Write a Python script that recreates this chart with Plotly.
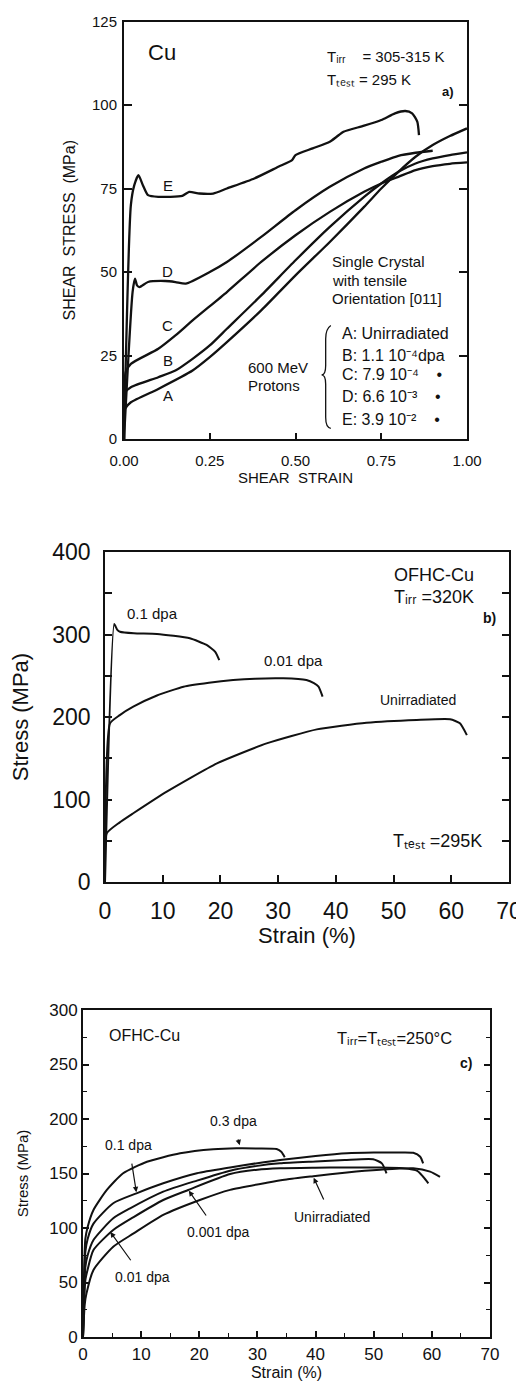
import plotly.graph_objects as go

# ---------------- Panel a: Cu single crystal, shear stress-strain ----------------
a_A_x = [0, 0.003, 0.02, 0.1, 0.2, 0.25, 0.3, 0.4, 0.5, 0.6, 0.7, 0.75, 0.8, 0.85, 0.9, 0.95, 1.0]
a_A_y = [0, 9, 11, 15, 20.5, 24.5, 29, 38.5, 49, 59, 69.5, 75, 80, 84.5, 88, 90.7, 93]
a_B_x = [0, 0.004, 0.02, 0.1, 0.15, 0.2, 0.25, 0.3, 0.4, 0.5, 0.6, 0.7, 0.75, 0.8, 0.85, 0.9, 0.95, 1.0]
a_B_y = [0, 14, 15.5, 18.5, 20.5, 24, 28, 33, 43, 53.5, 63.5, 72.5, 76.5, 80, 82.5, 84, 85, 85.8]
a_C_x = [0, 0.005, 0.02, 0.1, 0.15, 0.2, 0.3, 0.4, 0.5, 0.6, 0.7, 0.75, 0.8, 0.85, 0.9, 0.95, 1.0]
a_C_y = [0, 20, 22.5, 27, 31, 35.5, 44, 53, 61, 68, 74, 76.5, 78.5, 80.5, 81.7, 82.4, 82.8]
a_D_x = [0, 0.025, 0.032, 0.038, 0.045, 0.07, 0.12, 0.15, 0.18, 0.25, 0.3, 0.4, 0.5, 0.6, 0.7, 0.75, 0.8, 0.85, 0.9]
a_D_y = [0, 44, 48, 46, 45.5, 47, 47.3, 47, 46.5, 50, 53, 60.5, 68.5, 75.5, 81, 83, 84.8, 85.7, 86.3]
a_E_x = [0, 0.02, 0.03, 0.042, 0.055, 0.07, 0.1, 0.17, 0.19, 0.22, 0.26, 0.3, 0.38, 0.45, 0.49, 0.5,
         0.55, 0.6, 0.62, 0.64, 0.7, 0.75, 0.79, 0.82, 0.84, 0.855, 0.86]
a_E_y = [0, 70, 76, 79, 76, 73, 72.5, 72.8, 74, 73.5, 73.5, 75, 78, 81.5, 83.5, 85,
         87, 89, 90.5, 92, 93.8, 95.5, 97.5, 98.2, 97.5, 95, 91]
a_names = ["A", "B", "C", "D", "E"]
a_label_y = [12.9, 23.4, 34, 50.3, 76]
a_xticks = [0, 0.25, 0.5, 0.75, 1.0]
a_yticks = [0, 25, 50, 75, 100, 125]
a_dose_lines = ["A: Unirradiated", "B: 1.1 10⁻⁴dpa", "C: 7.9 10⁻⁴    •",
                "D: 6.6 10⁻³    •", "E: 3.9 10⁻²    •"]
a_dose_y = [31.7, 25.1, 19.2, 12.6, 5.7]
a_crystal_lines = ["Single Crystal", "with tensile", "Orientation [011]"]
a_crystal_y = [53, 47.6, 42.2]

# ---------------- Panel b: OFHC-Cu, T_irr = 320 K ----------------
b_01_x = [0, 1.6, 2.1, 2.6, 5, 9, 14.7, 17.6, 19.1, 19.8]
b_01_y = [0, 312.7, 306, 303.4, 301.5, 300.6, 295.4, 287.3, 279, 269]
b_001_x = [0, 0.87, 2.5, 4.9, 9, 13.6, 18, 22.2, 26, 30.9, 34.9, 36.2, 37, 37.7]
b_001_y = [0, 192.3, 202, 212.5, 226, 236.7, 241.5, 244.8, 246.5, 246.9, 244.8, 241, 236.7, 224.6]
b_un_x = [0, 0.3, 2.5, 4.9, 10.7, 19.4, 28, 36.7, 45.3, 54, 59.8, 61.5, 62.7]
b_un_y = [0, 59, 72, 83.3, 109.5, 143.8, 168, 185, 193, 196.4, 197.2, 192.3, 178]
b_labels = ["0.1 dpa", "0.01 dpa", "Unirradiated"]

# ---------------- Panel c: OFHC-Cu, T_irr = T_test = 250 C ----------------
c_03_x = [0, 0.4, 0.8, 1.8, 4.1, 6.9, 11, 16.7, 22.4, 26.4, 30, 33.3, 34.1, 34.7]
c_03_y = [0, 90, 101, 116.5, 134.9, 150.2, 160.8, 168.5, 172.2, 173.1, 173, 172.5, 170, 165]
c_01_x = [0, 0.4, 0.8, 1.8, 5.2, 9.2, 13.8, 19.6, 25.3, 30, 33.9, 40, 45.4, 50, 54, 56.8, 58, 58.5]
c_01_y = [0, 78, 90, 104, 122.7, 131.8, 141, 150.2, 155.5, 159.5, 162.4, 166, 168.5, 169.2, 169.3, 169, 165.4, 159.3]
c_001_x = [0, 0.4, 0.8, 1.8, 5.2, 8.1, 13.8, 19.6, 25.3, 30, 33.9, 40, 45, 49.9, 51.4, 52.2]
c_001_y = [0, 64, 75, 89, 108.9, 118, 133.3, 143.5, 152.6, 157, 159.3, 161, 162.3, 163, 159.3, 150.2]
c_0001_x = [0, 0.4, 0.8, 1.8, 5.2, 8.7, 13.8, 18.1, 25.3, 30, 33.9, 40, 45, 51, 55, 57.5, 58.5, 59.4]
c_0001_y = [0, 52, 62, 79.8, 98.2, 110, 125.7, 134.9, 149.5, 153.5, 154.8, 155.3, 155.5, 155.5, 154.8, 152.5, 147, 141]
c_un_x = [0, 0.3, 0.6, 1.8, 5.2, 8.7, 13.8, 20.1, 25.3, 31.6, 35, 39.6, 45.4, 51.1, 56.8, 59.7, 61.4]
c_un_y = [0, 30, 40, 61.5, 82.8, 95, 112, 125.7, 135, 141.5, 144.5, 147.5, 151, 153.5, 154.8, 151.7, 147]
c_labels = ["0.3 dpa", "0.1 dpa", "0.01 dpa", "0.001 dpa", "Unirradiated"]
# (label, label_x, label_y, arrow tip x, arrow tip y)
c_arrows = [("0.3 dpa", 25.8, 198, 27, 175),
            ("0.1 dpa", 7.9, 176, 9.2, 132),
            ("0.01 dpa", 10.3, 55, 4.6, 97),
            ("0.001 dpa", 23.2, 96, 18.1, 135),
            ("Unirradiated", 42.8, 110, 39.6, 147)]

# The page body has an 8 px margin, so the figure is drawn 8 px in from the top-left corner.
OFF = 8
W, H = 524 - OFF, 1381 - OFF
FA = "Liberation Sans, Arial, sans-serif"
FB = "Liberation Sans, Arial, sans-serif"
BLACK = "#111111"


def dom_x(p0, p1):
    return [(p0 - OFF) / W, (p1 - OFF) / W]


def dom_y(top, bottom):
    return [1 - (bottom - OFF) / H, 1 - (top - OFF) / H]


fig = go.Figure()

for nm, xs, ys in zip(a_names, [a_A_x, a_B_x, a_C_x, a_D_x, a_E_x], [a_A_y, a_B_y, a_C_y, a_D_y, a_E_y]):
    fig.add_trace(go.Scatter(x=xs, y=ys, mode="lines", line=dict(color=BLACK, width=2.3, shape="spline", smoothing=0.6),
                             name=nm, xaxis="x", yaxis="y", showlegend=False))

for nm, xs, ys in zip(b_labels, [b_01_x, b_001_x, b_un_x], [b_01_y, b_001_y, b_un_y]):
    fig.add_trace(go.Scatter(x=xs, y=ys, mode="lines", line=dict(color=BLACK, width=2, shape="spline", smoothing=0.5),
                             name=nm, xaxis="x2", yaxis="y2", showlegend=False))

for nm, xs, ys in zip(c_labels, [c_03_x, c_01_x, c_001_x, c_0001_x, c_un_x],
                      [c_03_y, c_01_y, c_001_y, c_0001_y, c_un_y]):
    fig.add_trace(go.Scatter(x=xs, y=ys, mode="lines", line=dict(color=BLACK, width=2, shape="spline", smoothing=0.6),
                             name=nm, xaxis="x3", yaxis="y3", showlegend=False))

ax_x = dict(showgrid=False, zeroline=False, showline=True, linecolor=BLACK, ticks="inside",
            tickcolor=BLACK, mirror=True, automargin=False)
ax_y = dict(showgrid=False, zeroline=False, showline=True, linecolor=BLACK, ticks="inside",
            tickcolor=BLACK, mirror="ticks", automargin=False)

fig.update_layout(
    template="none",
    width=W, height=H, margin=dict(l=0, r=0, t=0, b=0, pad=0),
    paper_bgcolor="white", plot_bgcolor="white", showlegend=False,
    # panel a
    xaxis=dict(**ax_x, domain=dom_x(124, 467), range=[0, 1], tickvals=a_xticks, tickformat=".2f",
               linewidth=2, ticklen=6, tickwidth=1.5, anchor="y", ticklabelstandoff=7,
               tickfont=dict(family=FA, size=15, color=BLACK),
               title=dict(text="SHEAR  STRAIN", font=dict(family=FA, size=15, color=BLACK), standoff=0)),
    yaxis=dict(**ax_y, domain=dom_y(21.5, 439), range=[0, 125], tickvals=a_yticks,
               linewidth=2, ticklen=8, tickwidth=1.5, anchor="x", ticklabelstandoff=2,
               tickfont=dict(family=FA, size=15, color=BLACK),
               title=dict(text="SHEAR  STRESS  (MPa)", font=dict(family=FA, size=16, color=BLACK), standoff=12)),
    # panel b
    xaxis2=dict(**ax_x, domain=dom_x(105, 509), range=[0, 70], dtick=10,
                linewidth=1.8, ticklen=7, tickwidth=1.5, anchor="y2", ticklabelstandoff=7,
                tickfont=dict(family=FB, size=23, color=BLACK),
                title=dict(text="Strain (%)", font=dict(family=FB, size=22, color=BLACK), standoff=0)),
    yaxis2=dict(**ax_y, domain=dom_y(552, 882), range=[0, 400], dtick=100,
                linewidth=1.8, ticklen=7, tickwidth=1.5, anchor="x2", ticklabelstandoff=8,
                minor=dict(dtick=50, ticks="inside", ticklen=7, tickcolor=BLACK, tickwidth=1.5),
                tickfont=dict(family=FB, size=23, color=BLACK),
                title=dict(text="Stress (MPa)", font=dict(family=FB, size=22, color=BLACK), standoff=19)),
    # panel c
    xaxis3=dict(**ax_x, domain=dom_x(83, 490), range=[0, 70], dtick=10,
                linewidth=2, ticklen=6, tickwidth=1.5, anchor="y3", ticklabelstandoff=1,
                minor=dict(dtick=5, ticks="inside", ticklen=4, tickcolor=BLACK, tickwidth=1.2),
                tickfont=dict(family=FB, size=17, color=BLACK),
                title=dict(text="Strain (%)", font=dict(family=FB, size=16, color=BLACK), standoff=0)),
    yaxis3=dict(**ax_y, domain=dom_y(1010, 1337), range=[0, 300], dtick=50,
                linewidth=2, ticklen=6, tickwidth=1.5, anchor="x3", ticklabelstandoff=0,
                minor=dict(dtick=25, ticks="inside", ticklen=4, tickcolor=BLACK, tickwidth=1.2),
                tickfont=dict(family=FB, size=17, color=BLACK),
                title=dict(text="Stress (MPa)", font=dict(family=FB, size=15, color=BLACK), standoff=17)),
)

ann = []


def txt(text, x, y, xref, yref, size, family=FA, xanchor="center", yanchor="middle", align="center", bold=False):
    ann.append(dict(text=text, x=x, y=y, xref=xref, yref=yref, showarrow=False,
                    font=dict(family=family, size=size, color=BLACK, weight="bold" if bold else "normal"),
                    xanchor=xanchor, yanchor=yanchor, align=align))


SUB_IRR = "ᵢᵣᵣ"
SUB_TEST = "ₜₑₛₜ"

# panel a texts
for nm, ly in zip(a_names, a_label_y):
    txt(nm, 0.128, ly, "x", "y", 15)
txt("Cu", 0.11, 115.6, "x", "y", 22)
txt("T" + SUB_IRR + "    = 305-315 K", 0.586, 114.4, "x", "y", 15, xanchor="left")
txt("T" + SUB_TEST + " = 295 K", 0.586, 107.6, "x", "y", 15, xanchor="left")
txt("a)", 0.945, 103.9, "x", "y", 13, bold=True)
for line_txt, ly in zip(a_crystal_lines, a_crystal_y):
    txt(line_txt, 0.6, ly, "x", "y", 15, xanchor="left")
txt("600 MeV", 0.356, 21.3, "x", "y", 15, xanchor="left")
txt("Protons", 0.356, 15.9, "x", "y", 15, xanchor="left")
for line_txt, ly in zip(a_dose_lines, a_dose_y):
    txt(line_txt, 0.63, ly, "x", "y", 16, xanchor="left")

# panel b texts
txt("0.1 dpa", 8.3, 325, "x2", "y2", 15, family=FB)
txt("0.01 dpa", 32.6, 268, "x2", "y2", 15, family=FB)
txt("Unirradiated", 54.2, 220.6, "x2", "y2", 14, family=FB)
txt("OFHC-Cu", 49.7, 372, "x2", "y2", 18, family=FB, xanchor="left")
txt("T" + SUB_IRR + " =320K", 49.7, 345.5, "x2", "y2", 18, family=FB, xanchor="left")
txt("b)", 66.7, 320, "x2", "y2", 14, family=FB, bold=True)
txt("T" + SUB_TEST + " =295K", 49.6, 49.7, "x2", "y2", 18, family=FB, xanchor="left")

# panel c texts
txt("OFHC-Cu", 4.1, 277, "x3", "y3", 16, family=FB, xanchor="left")
txt("T" + SUB_IRR + "=T" + SUB_TEST + "=250°C", 43.3, 274, "x3", "y3", 16.5, family=FB, xanchor="left")
txt("c)", 65.9, 251, "x3", "y3", 14, family=FB, bold=True)

for lab, lx, ly, tx, ty in c_arrows:
    ann.append(dict(text=lab, x=tx, y=ty, ax=lx, ay=ly, xref="x3", yref="y3", axref="x3", ayref="y3",
                    showarrow=True, arrowhead=2, arrowsize=0.9, arrowwidth=1.2, arrowcolor=BLACK,
                    standoff=1, startstandoff=9,
                    font=dict(family=FB, size=14, color=BLACK)))

fig.update_layout(annotations=ann)

# brace grouping the dose list in panel a
fig.add_shape(type="path", xref="x", yref="y",
              path="M 0.603,34 Q 0.588,33 0.588,30 L 0.588,22 Q 0.588,19.2 0.576,19.2 "
                   "Q 0.588,19.2 0.588,16.4 L 0.588,6.5 Q 0.588,3.4 0.603,3.2",
              line=dict(color=BLACK, width=1.3))

fig.write_html("out.html")
